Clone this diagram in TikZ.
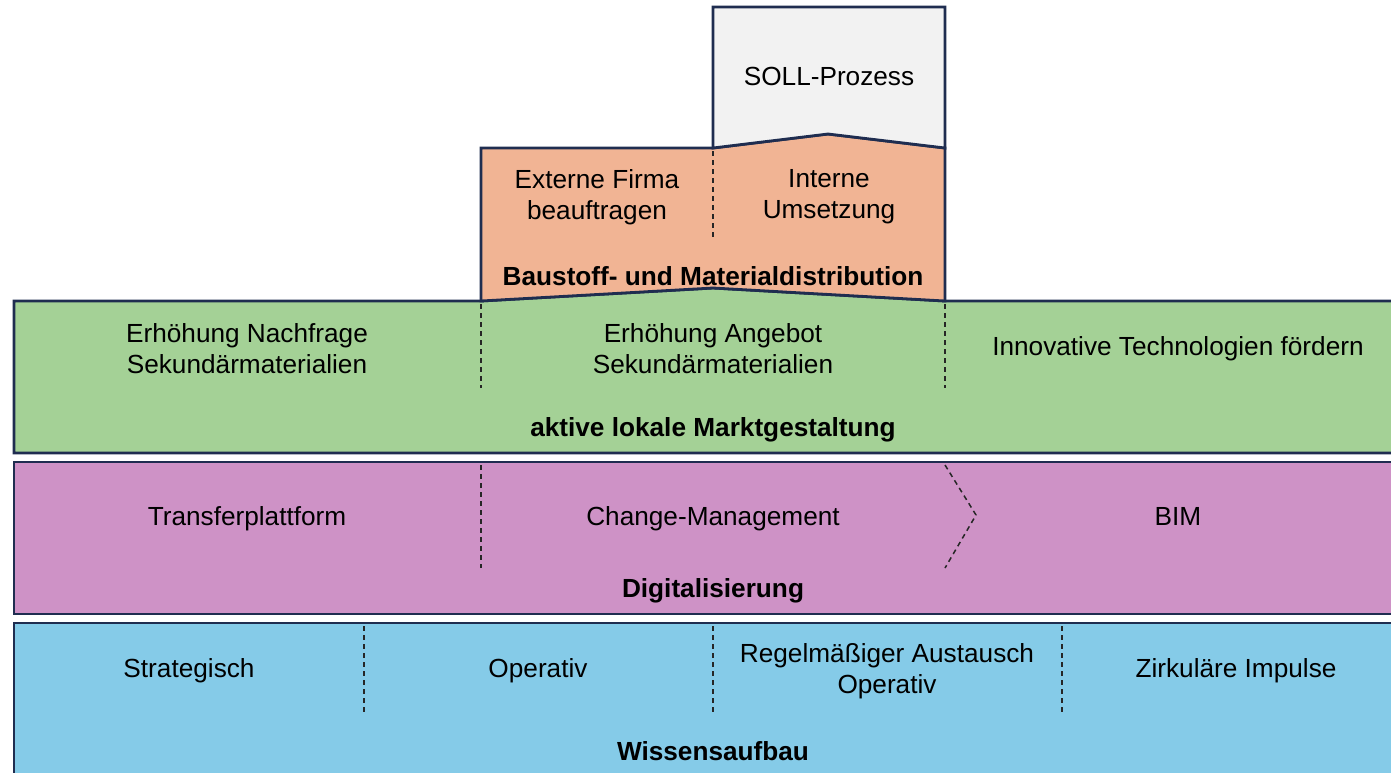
\documentclass[tikz,border=0pt]{standalone}
\usepackage{fontspec}
\setmainfont{Liberation Sans}
\definecolor{bordc}{RGB}{31,45,80}
\definecolor{grayf}{RGB}{242,242,242}
\definecolor{orangef}{RGB}{241,180,148}
\definecolor{greenf}{RGB}{164,209,150}
\definecolor{purplef}{RGB}{206,146,198}
\definecolor{bluef}{RGB}{133,203,232}
\tikzset{
  panel/.style={draw=bordc, line width=2.8pt, line join=miter},
  sep/.style={draw=black!85, line width=1.5pt, dash pattern=on 5pt off 4pt},
  lbl/.style={align=center, font=\fontsize{26.2}{31}\selectfont, text=black, inner sep=0pt},
  ttl/.style={align=center, font=\fontsize{26.2}{31}\selectfont\bfseries, text=black, inner sep=0pt}
}
\begin{document}
\begin{tikzpicture}[x=1pt,y=-1pt]
\useasboundingbox (0,0) rectangle (1391,772);
\clip (0,0) rectangle (1391,772);
% green panel
\path[panel, fill=greenf] (14,301) -- (481,301) -- (713,288) -- (945,301) -- (1412,301) -- (1412,453) -- (14,453) -- cycle;
% purple panel
\path[panel, fill=purplef] (14,462) rectangle (1412,614);
% blue panel
\path[panel, fill=bluef] (14,623) rectangle (1412,790);
% orange panel
\path[panel, fill=orangef] (481,148) -- (713,148) -- (828,134) -- (945,148) -- (945,301) -- (713,288) -- (481,301) -- cycle;
% SOLL panel
\path[panel, fill=grayf] (713,7) -- (945,7) -- (945,148) -- (828,134) -- (713,148) -- cycle;

% separators
\draw[sep] (713,151) -- (713,237);
\draw[sep] (481,304) -- (481,388);
\draw[sep] (945,304) -- (945,388);
\draw[sep] (481,465) -- (481,568);
\draw[sep] (945,465) -- (976,515) -- (945,568);
\draw[sep] (364,626) -- (364,712);
\draw[sep] (713,626) -- (713,712);
\draw[sep] (1062,626) -- (1062,712);

% texts
\node[lbl] (soll) at (829,76) {SOLL-Prozess};
\node[lbl] (ext) at (597,197) {Externe Firma\\beauftragen};
\node[lbl] (int) at (829,197) {Interne\\Umsetzung};
\node[ttl] (bau) at (713,276) {Baustoff- und Materialdistribution};

\node[lbl] (nach) at (247,349) {Erhöhung Nachfrage\\Sekundärmaterialien};
\node[lbl] (ang) at (713,349) {Erhöhung Angebot\\Sekundärmaterialien};
\node[lbl] (inno) at (1178,349) {Innovative Technologien fördern};
\node[ttl] (markt) at (713,430) {aktive lokale Marktgestaltung};

\node[lbl] (trans) at (247,519) {Transferplattform};
\node[lbl] (change) at (713,519) {Change-Management};
\node[lbl] (bim) at (1178,516) {BIM};
\node[ttl] (digi) at (713,591) {Digitalisierung};

\node[lbl] (strat) at (189,671) {Strategisch};
\node[lbl] (oper) at (538,671) {Operativ};
\node[lbl] (regel) at (887,671) {Regelmäßiger Austausch\\Operativ};
\node[lbl] (zirk) at (1236,671) {Zirkuläre Impulse};
\node[ttl] (wiss) at (713,751) {Wissensaufbau};
\end{tikzpicture}
\end{document}
